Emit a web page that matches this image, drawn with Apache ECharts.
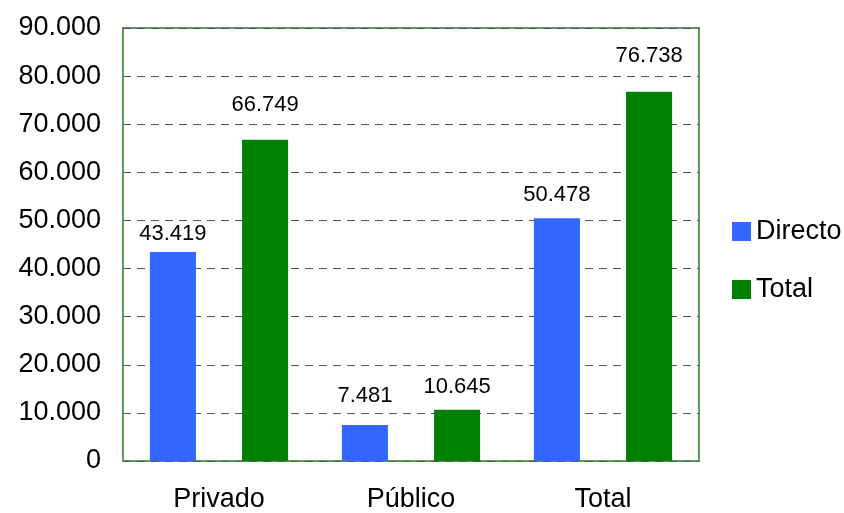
<!DOCTYPE html>
<html><head><meta charset="utf-8">
<script src="https://cdn.jsdelivr.net/npm/echarts@6/dist/echarts.min.js"></script>
<style>html,body{margin:0;padding:0;background:#fff}#c{width:844px;height:513px}</style>
</head><body><div id="c"></div>
<script>
const categories = ['Privado', 'Público', 'Total'];
const directo = [43419, 7481, 50478];
const total = [66749, 10645, 76738];
const seriesNames = ['Directo', 'Total'];

// label gaps above bars (styling, as in the reference)
const directoLabelGap = [7, 18, 12];
const totalLabelGap = [24, 12, 25];

function fmt(v){ return String(Math.round(v)).replace(/\B(?=(\d{3})+(?!\d))/g, '.'); }
const font = 'Liberation Sans, Arial, sans-serif';
function items(vals, gaps){
  return vals.map((v,i)=>({value:v, label:{distance:gaps[i]}}));
}
const chart = echarts.init(document.getElementById('c'));
chart.setOption({
  animation:false,
  backgroundColor:'#fff',
  textStyle:{fontFamily:font},
  grid:{left:123, right:145, top:28, bottom:52, show:true, borderColor:'#5c9c5c', borderWidth:2, backgroundColor:'transparent'},
  legend:{orient:'vertical', left:727, top:213, itemWidth:19, itemHeight:19, itemGap:31, icon:'rect',
    textStyle:{fontSize:27, color:'#000', fontFamily:font}, data:seriesNames},
  xAxis:{type:'category', data:categories,
    axisLine:{show:false}, axisTick:{show:false},
    axisLabel:{fontSize:27, color:'#000', margin:25, fontFamily:font}},
  yAxis:{type:'value', min:0, max:90000, interval:10000,
    axisLine:{show:false}, axisTick:{show:false},
    axisLabel:{fontSize:27, color:'#000', margin:22, formatter:fmt, fontFamily:font},
    splitLine:{lineStyle:{color:'#555', type:[8,6], width:1}}},
  series:[
    {name:seriesNames[0], type:'bar', data:items(directo, directoLabelGap), barGap:'100%', barCategoryGap:'28%',
     itemStyle:{color:'#3366FF'},
     label:{show:true, position:'top', fontSize:22, color:'#000', formatter:p=>fmt(p.value), fontFamily:font}},
    {name:seriesNames[1], type:'bar', data:items(total, totalLabelGap),
     itemStyle:{color:'#008000'},
     label:{show:true, position:'top', fontSize:22, color:'#000', formatter:p=>fmt(p.value), fontFamily:font}}
  ]
});
</script></body></html>
